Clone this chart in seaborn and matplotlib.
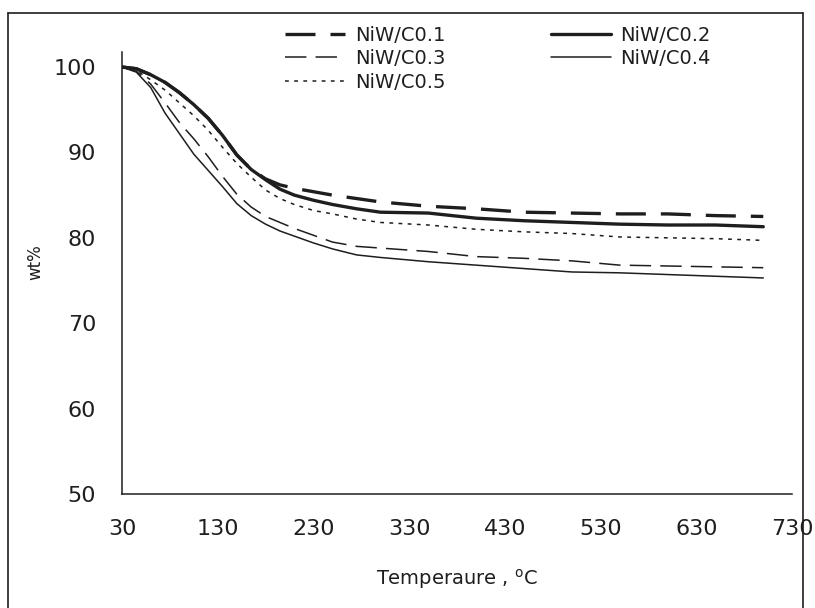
import numpy as np
import pandas as pd
import matplotlib
matplotlib.use("Agg")
import matplotlib.pyplot as plt
from matplotlib.lines import Line2D
import seaborn as sns

# ---- data ----
temperature = [30, 45, 60, 75, 90, 105, 120, 135, 150, 165, 180, 195, 210, 230,
               250, 275, 300, 350, 400, 450, 500, 550, 600, 650, 700]
niw_c01 = [100, 99.8, 99.1, 98.2, 97.0, 95.6, 94.0, 92.0, 89.7, 88.0, 86.9, 86.2, 85.8, 85.4,
           85.0, 84.6, 84.2, 83.7, 83.4, 83.0, 82.9, 82.8, 82.8, 82.6, 82.5]
niw_c02 = [100, 99.8, 99.1, 98.2, 97.0, 95.6, 94.0, 92.0, 89.7, 88.0, 86.8, 85.7, 85.0, 84.4,
           83.9, 83.4, 83.0, 82.9, 82.3, 82.0, 81.8, 81.6, 81.5, 81.5, 81.3]
niw_c03 = [100, 99.5, 98.0, 95.8, 93.5, 91.6, 89.5, 87.2, 85.1, 83.6, 82.5, 81.8, 81.1, 80.3,
           79.5, 79.0, 78.8, 78.4, 77.8, 77.6, 77.3, 76.8, 76.7, 76.6, 76.5]
niw_c04 = [100, 99.4, 97.6, 94.6, 92.2, 89.8, 87.9, 86.0, 84.0, 82.6, 81.6, 80.8, 80.2, 79.4,
           78.7, 78.0, 77.7, 77.2, 76.8, 76.4, 76.0, 75.9, 75.7, 75.5, 75.3]
niw_c05 = [100, 99.6, 98.5, 97.3, 95.8, 94.3, 92.6, 90.6, 88.7, 87.1, 85.6, 84.6, 83.9, 83.2,
           82.8, 82.2, 81.8, 81.5, 81.0, 80.7, 80.5, 80.1, 80.0, 79.9, 79.7]
series_names = ["NiW/C0.1", "NiW/C0.2", "NiW/C0.3", "NiW/C0.4", "NiW/C0.5"]
x_ticks = [30, 130, 230, 330, 430, 530, 630, 730]
y_ticks = [50, 60, 70, 80, 90, 100]

sns.set_style("white")
plt.rcParams['font.family'] = ['DejaVu Sans']

fig = plt.figure(figsize=(8.15, 6.08), dpi=100)
fig.patch.set_facecolor("white")
ax = fig.add_axes([122/815, 1-494/608, 670/815, 442/608])

ink = "#1e1e1e"
styles = {
    "NiW/C0.1": dict(lw=2.4, ls=(0, (9, 4.5))),
    "NiW/C0.2": dict(lw=2.4, ls="-"),
    "NiW/C0.3": dict(lw=1.1, ls=(0, (14, 6))),
    "NiW/C0.4": dict(lw=1.1, ls="-"),
    "NiW/C0.5": dict(lw=1.1, ls=(0, (2.5, 3.5))),
}
values = dict(zip(series_names, [niw_c01, niw_c02, niw_c03, niw_c04, niw_c05]))

handles = {}
for name in series_names:
    df = pd.DataFrame({"T": temperature, "wt": values[name]})
    st = styles[name]
    sns.lineplot(data=df, x="T", y="wt", ax=ax, color=ink, linewidth=st["lw"],
                 linestyle=st["ls"], legend=False)
    handles[name] = Line2D([], [], color=ink, lw=st["lw"], ls=st["ls"])

ax.set_xlim(30, 730)
ax.set_ylim(50, 101.76)
ax.set_xticks(x_ticks)
ax.set_yticks(y_ticks)
ax.tick_params(axis="x", direction="in", length=7, width=1.0, pad=18, labelsize=16, colors=ink)
ax.tick_params(axis="y", direction="out", length=6.5, width=1.0, pad=12, labelsize=16, colors=ink)
for s in ["top", "right"]:
    ax.spines[s].set_visible(False)
for s in ["left", "bottom"]:
    ax.spines[s].set_color(ink)
    ax.spines[s].set_linewidth(1.1)

ax.set_xlabel("Temperaure , $^{\\rm o}$C", fontsize=14, color=ink)
ax.xaxis.set_label_coords(0.5, -0.165)
ax.set_ylabel("wt%", fontsize=12, color=ink)
ax.yaxis.set_label_coords(-0.116, 0.525)

order = ["NiW/C0.1", "NiW/C0.3", "NiW/C0.5", "NiW/C0.2", "NiW/C0.4"]
leg = ax.legend([handles[n] for n in order], order, ncol=2, frameon=False,
                loc="upper left", bbox_to_anchor=(285/815, 1-26/608),
                bbox_transform=fig.transFigure, fontsize=14, handlelength=3.1,
                handletextpad=0.5, columnspacing=5.4, labelspacing=0.22,
                borderpad=0, borderaxespad=0)
for t in leg.get_texts():
    t.set_color(ink)

# outer frame of the figure
for (x0, y0, x1, y1) in [(8, 13, 8, 608), (8, 13, 803, 13), (803, 13, 803, 608)]:
    fig.add_artist(Line2D([x0/815, x1/815], [1-y0/608, 1-y1/608], color=ink, lw=1.2,
                          transform=fig.transFigure))

fig.savefig("out.png", dpi=100, facecolor="white")
